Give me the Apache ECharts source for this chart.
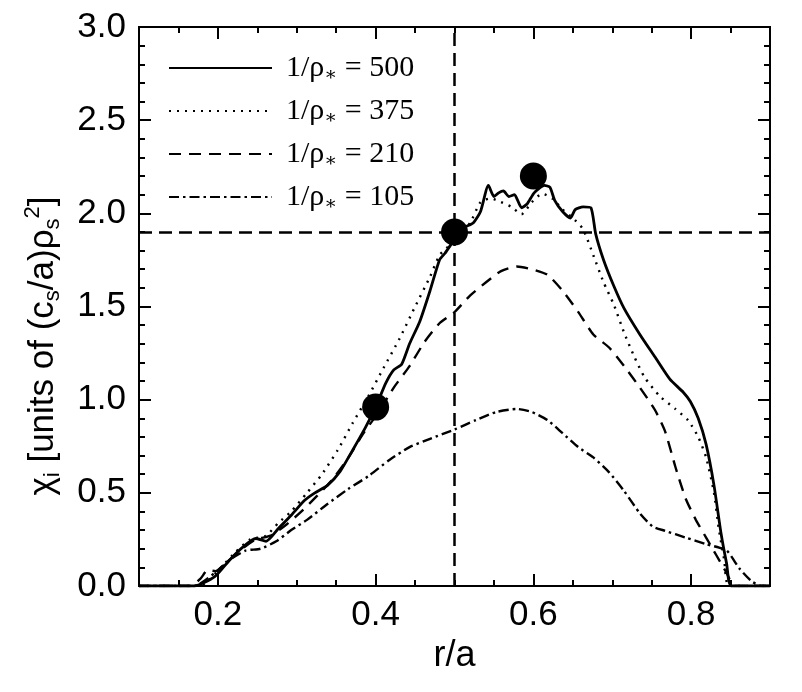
<!DOCTYPE html>
<html>
<head>
<meta charset="utf-8">
<script src="https://cdn.jsdelivr.net/npm/echarts@6/dist/echarts.min.js"></script>
<style>html,body{margin:0;padding:0;background:#fff}#c,#f{width:802px;height:692px;position:absolute;left:0;top:0}#f{pointer-events:none}</style>
</head>
<body>
<div id="c"></div>
<div id="f"></div>
<script>
var rho500 = [[0.10,0],[0.17,0],[0.196,0.05],[0.215,0.14],[0.232,0.21],[0.248,0.255],[0.261,0.24],[0.277,0.31],[0.293,0.38],[0.310,0.46],[0.323,0.50],[0.339,0.54],[0.355,0.615],[0.371,0.73],[0.387,0.85],[0.400,0.96],[0.413,1.09],[0.423,1.16],[0.433,1.19],[0.443,1.30],[0.456,1.42],[0.469,1.585],[0.481,1.75],[0.488,1.786],[0.500,1.86],[0.511,1.92],[0.524,1.95],[0.533,2.01],[0.543,2.15],[0.550,2.09],[0.556,2.11],[0.562,2.12],[0.569,2.09],[0.576,2.10],[0.585,2.03],[0.592,2.05],[0.601,2.11],[0.614,2.15],[0.621,2.14],[0.627,2.07],[0.637,2.01],[0.647,1.975],[0.653,2.02],[0.663,2.035],[0.673,2.03],[0.679,1.89],[0.689,1.75],[0.702,1.61],[0.715,1.49],[0.735,1.35],[0.754,1.23],[0.773,1.11],[0.790,1.04],[0.799,0.99],[0.809,0.90],[0.819,0.76],[0.829,0.54],[0.838,0.28],[0.845,0.12],[0.851,0],[0.90,0]];
var rho375 = [[0.10,0],[0.17,0],[0.183,0.01],[0.203,0.095],[0.222,0.18],[0.241,0.25],[0.261,0.27],[0.277,0.34],[0.293,0.40],[0.313,0.50],[0.332,0.60],[0.352,0.73],[0.371,0.875],[0.391,1.02],[0.410,1.17],[0.430,1.325],[0.449,1.49],[0.469,1.66],[0.481,1.775],[0.494,1.83],[0.507,1.89],[0.520,1.95],[0.533,2.06],[0.546,2.08],[0.559,2.06],[0.572,2.035],[0.585,1.995],[0.598,2.06],[0.611,2.105],[0.624,2.08],[0.637,2.02],[0.650,1.975],[0.663,1.915],[0.676,1.775],[0.689,1.63],[0.702,1.51],[0.715,1.36],[0.728,1.23],[0.741,1.12],[0.760,1.02],[0.780,0.95],[0.796,0.89],[0.809,0.80],[0.819,0.69],[0.829,0.50],[0.835,0.31],[0.842,0.14],[0.848,0],[0.90,0]];
var rho210 = [[0.10,0],[0.165,0],[0.178,0.04],[0.187,0.085],[0.197,0.08],[0.209,0.12],[0.228,0.19],[0.248,0.25],[0.267,0.27],[0.287,0.33],[0.306,0.40],[0.326,0.485],[0.345,0.57],[0.365,0.686],[0.384,0.816],[0.404,0.935],[0.423,1.065],[0.443,1.18],[0.462,1.31],[0.481,1.41],[0.500,1.47],[0.520,1.56],[0.540,1.63],[0.559,1.69],[0.579,1.715],[0.598,1.70],[0.618,1.67],[0.637,1.585],[0.657,1.47],[0.676,1.35],[0.696,1.28],[0.715,1.18],[0.735,1.065],[0.754,0.946],[0.767,0.83],[0.780,0.64],[0.793,0.47],[0.806,0.355],[0.819,0.26],[0.832,0.165],[0.845,0.07],[0.855,0],[0.90,0]];
var rho105 = [[0.10,0],[0.17,0],[0.196,0.07],[0.215,0.14],[0.235,0.19],[0.254,0.20],[0.274,0.24],[0.293,0.30],[0.313,0.355],[0.339,0.44],[0.365,0.52],[0.391,0.59],[0.417,0.675],[0.443,0.745],[0.469,0.79],[0.500,0.84],[0.527,0.89],[0.553,0.934],[0.579,0.95],[0.598,0.934],[0.618,0.89],[0.637,0.82],[0.657,0.745],[0.676,0.69],[0.696,0.61],[0.715,0.51],[0.735,0.39],[0.751,0.32],[0.767,0.296],[0.793,0.26],[0.819,0.225],[0.845,0.19],[0.861,0.095],[0.877,0.024],[0.89,0],[0.90,0]];
var markers = [[0.4,0.96],[0.5,1.9],[0.6,2.2]];
var refX = 0.5, refY = 1.9;
var xMajorTicks = [0.2,0.4,0.6,0.8];
var seriesNames = ['500','375','210','105'];

var ink = '#000';
var sans = 'Liberation Sans, Arial, Helvetica, sans-serif';
var serif = 'Liberation Serif, Times New Roman, serif';
var gridBox = {left:139, right:32, top:27, bottom:106};

function xAx(pos, major, labels) {
  var a = {
    type:'value', position:pos, min:0.1, max:0.9, interval: major ? 0.1 : 0.05,
    axisLine:{show:!major, onZero:false, lineStyle:{color:ink, width:2}},
    axisTick:{show:true, inside:true, length: major ? 12 : 6, lineStyle:{color:ink, width:2}},
    axisLabel: labels ? {show:true, customValues:xMajorTicks, margin:12, color:ink, fontSize:35,
      formatter:function(v){return v.toFixed(1);}} : {show:false},
    splitLine:{show:false}
  };
  if (major) a.axisTick.customValues = xMajorTicks;
  return a;
}
function yAx(pos, labels) {
  return {
    type:'value', position:pos, min:0, max:3, interval:0.5,
    axisLine:{show:true, onZero:false, lineStyle:{color:ink, width:2}},
    axisTick:{show:true, inside:true, length:12, lineStyle:{color:ink, width:2}},
    minorTick:{show:true, splitNumber:5, length:6, lineStyle:{color:ink, width:2}},
    axisLabel: labels ? {show:true, margin:13, color:ink, fontSize:35,
      formatter:function(v){return v.toFixed(1);}} : {show:false},
    splitLine:{show:false}
  };
}

/* main chart: data, labels, legend, reference lines */
var xAxes = [xAx('bottom',false,false), xAx('bottom',true,true), xAx('top',false,false), xAx('top',true,false)];
xAxes[1].name = 'r/a';
xAxes[1].nameLocation = 'middle';
xAxes[1].nameGap = 52;
xAxes[1].nameTextStyle = {color:ink, fontSize:36};
var yAxes = [yAx('left',true), yAx('right',false)];

function lineSeries(name, data, type, width) {
  return {name:name, type:'line', data:data,
    symbol:'none', smooth:0.2, lineStyle:{color:ink, width:width, type:type}, itemStyle:{color:ink}};
}
var series = [
  lineSeries(seriesNames[0], rho500, 'solid', 2.8),
  lineSeries(seriesNames[1], rho375, [2,6], 2.4),
  lineSeries(seriesNames[2], rho210, [12,8], 2.4),
  lineSeries(seriesNames[3], rho105, [10,4,2.5,4], 2.4),
  {name:'refs', type:'line', data:[], symbol:'none',
    markLine:{silent:true, symbol:'none', label:{show:false},
      lineStyle:{color:ink, width:2.5, type:[13,7]},
      data:[{xAxis:refX},{yAxis:refY}]}},
  {name:'pts', type:'scatter', data:markers, symbol:'circle', symbolSize:27,
    itemStyle:{color:ink, opacity:1}, z:5}
];

var chart = echarts.init(document.getElementById('c'));
chart.setOption({
  animation:false,
  grid:gridBox,
  xAxis:xAxes,
  yAxis:yAxes,
  legend:{
    data:seriesNames, orient:'vertical', left:163, top:48, itemWidth:103, itemHeight:14, itemGap:11,
    itemStyle:{opacity:0},
    formatter:function(n){return '{a|1/ρ}{b|∗}{a| = ' + n + '}';},
    textStyle:{color:ink, fontFamily:serif, fontSize:30, padding:[0,0,0,9],
      rich:{
        a:{fontSize:30, fontFamily:serif, color:ink, lineHeight:34},
        b:{fontSize:19, fontFamily:'DejaVu Serif, serif', color:ink, lineHeight:12, verticalAlign:'bottom'}
      }},
    selectedMode:false
  },
  graphic:[{
    type:'text', left:22, top:'middle', rotation:Math.PI/2, silent:true,
    style:{
      text:'{a|χ}{sub|i}{a| [units of (c}{sub|s}{a|/a)ρ}{sub|s}{sup|2}{a|]}',
      fill:ink, fontSize:35, fontFamily:sans,
      rich:{
        a:{fontSize:35, fontFamily:sans, fill:ink, lineHeight:42},
        sub:{fontSize:22, fontFamily:sans, fill:ink, lineHeight:16, verticalAlign:'bottom'},
        sup:{fontSize:22, fontFamily:sans, fill:ink, lineHeight:16, verticalAlign:'top'}
      }
    }
  }],
  series:series
});

/* overlay chart: frame with inward major and minor ticks on all four sides */
var frame = echarts.init(document.getElementById('f'));
frame.setOption({
  animation:false,
  grid:gridBox,
  xAxis:[xAx('bottom',false,false), xAx('bottom',true,false), xAx('top',false,false), xAx('top',true,false)],
  yAxis:[yAx('left',false), yAx('right',false)],
  series:[{type:'scatter', data:markers, symbolSize:0, silent:true, itemStyle:{opacity:0}}]
});
</script>
</body>
</html>
